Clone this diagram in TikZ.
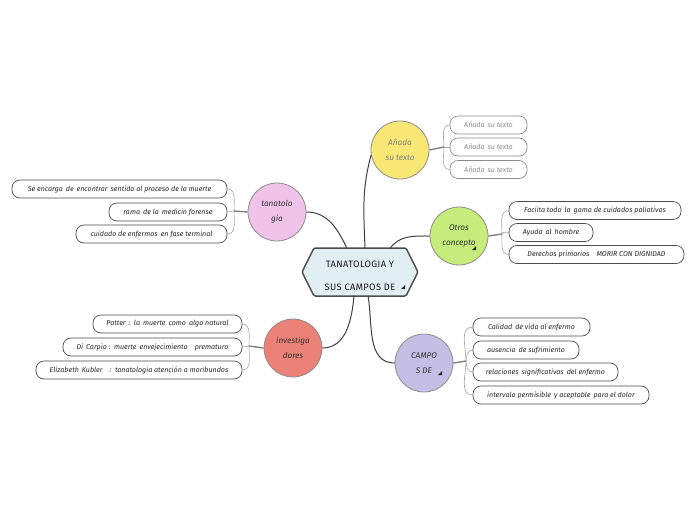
\documentclass[tikz,border=0pt]{standalone}
\usepackage{fontspec}
\setmainfont{Fira Sans}
\definecolor{hexfill}{HTML}{E1EEF4}
\definecolor{cyellow}{HTML}{F8E775}
\definecolor{cgreen}{HTML}{C6EC7C}
\definecolor{cpurple}{HTML}{C5BEE5}
\definecolor{cred}{HTML}{EC8277}
\definecolor{cpink}{HTML}{EFC3E9}
\newcommand{\leaffont}{\fontsize{7.1}{8}\selectfont\itshape}
\newcommand{\topicfont}{\fontsize{8.2}{15}\selectfont\itshape}
\newcommand{\mytri}[1]{\fill[black!85] ($(#1)+(2,-2)$) -- ($(#1)+(2,2)$) -- ($(#1)+(-2,2)$) -- cycle;}
\usetikzlibrary{calc}
\tikzset{
 conn/.style={draw=black!75, line width=1pt},
 stem/.style={draw=black!50, line width=1.4pt},
 brk/.style={draw=black!35, line width=0.6pt},
 leaf/.style={draw=black!70, line width=0.7pt, rounded corners=8pt, minimum height=18pt, inner sep=0pt, font=\leaffont, text=black!85, fill=white},
 leafgray/.style={leaf, draw=black!45, text=black!45},
 topic/.style={circle, draw=black!45, line width=0.8pt, minimum size=58pt, inner sep=0pt, align=center, font=\topicfont, text=black!80},
}
\begin{document}
\begin{tikzpicture}[x=1pt,y=-1pt]
\useasboundingbox (0,0) rectangle (696,520);
\fill[white] (0,0) rectangle (696,520);

% central hexagon
\draw[fill=hexfill, draw=black!70, line width=1.5pt, rounded corners=1.5pt]
  (302,272) -- (314,248) -- (406,248) -- (418,272) -- (406,296) -- (314,296) -- cycle;
\node (c) at (360,275.5) [align=center, font=\fontsize{9.3}{23}\selectfont\addfontfeature{LetterSpace=4}, text=black!90] {TANATOLOGIA Y\\SUS CAMPOS DE\hspace{8pt}};
\coordinate (cA) at (347,248.5);
\coordinate (cB) at (365,248.5);
\coordinate (cC) at (390,248.5);
\coordinate (cD) at (354,295.5);
\coordinate (cE) at (368,295.5);
\mytri{403,287}

% topics
\node[topic, fill=cpink] (pink) at (277,212) {tanatolo\\gia};
\node[topic, fill=cyellow, text=black!50] (yel) at (400,150) {Añada\\su texto};
\node[topic, fill=cgreen] (grn) at (459,236) {Otros\\concepto};
\node[topic, fill=cpurple] (pur) at (424,363) {CAMPO\\S DE\hspace{6pt}};
\node[topic, fill=cred] (red) at (293,348) {investiga\\dores};
\mytri{474,248}
\mytri{440,373}

% main connectors
\draw[conn] (pink.east) to[out=0,in=115] (cA);
\draw[conn] (yel.190) to[out=255,in=92] (cB);
\draw[conn] (grn.west) to[out=180,in=55] (cC);
\draw[conn] (cD) to[out=-95,in=0] (red.east);
\draw[conn] (cE) to[out=-80,in=180] (pur.west);

% yellow leaves
\node[leafgray, minimum width=77pt] (y1) at (488.5,125) {Añada\, su texto};
\node[leafgray, minimum width=77pt] (y2) at (488.5,147) {Añada\, su texto};
\node[leafgray, minimum width=77pt] (y3) at (488.5,169.5) {Añada\, su texto};
\coordinate (yj) at (444,147);
\draw[stem] (yel.east) -- (yj);
\draw[brk] (yj) to[out=90,in=180] (y1.west);
\draw[brk] (yj) -- (y2.west);
\draw[brk] (yj) to[out=-90,in=180] (y3.west);

% green leaves
\node[leaf, minimum width=172pt] (g1) at (595,210.5) {Faciita todo\, la\, gama de cuidados paliativos};
\node[leaf, minimum width=84pt] (g2) at (551,232.5) {Ayuda\, al\, hombre};
\node[leaf, minimum width=175pt] (g3) at (596.5,254.5) {Derechos primarios\quad MORIR CON DIGNIDAD};
\coordinate (gj) at (502,234);
\draw[stem] (grn.east) -- (gj);
\draw[brk] (gj) to[out=90,in=180] (g1.west);
\draw[brk] (gj) to[out=90,in=180] (g2.west);
\draw[brk] (gj) to[out=-90,in=180] (g3.west);

% purple leaves
\node[leaf, minimum width=117pt] (p1) at (531.5,327) {Calidad\, de vida al enfermo};
\node[leaf, minimum width=106pt] (p2) at (526,350) {ausencia\, de sufrimiento};
\node[leaf, minimum width=145pt] (p3) at (545.5,372) {relaciones\, significativas\, del enfermo};
\node[leaf, minimum width=176pt] (p4) at (561,395) {intervalo permisible\, y aceptable\, para el dolor};
\coordinate (pj) at (466,361);
\draw[stem] (pur.east) -- (pj);
\draw[brk] (pj) to[out=90,in=180] (p1.west);
\draw[brk] (pj) to[out=90,in=180] (p2.west);
\draw[brk] (pj) to[out=-90,in=180] (p3.west);
\draw[brk] (pj) to[out=-90,in=180] (p4.west);

% pink leaves
\node[leaf, minimum width=215pt] (k1) at (119.5,189) {Se encarga\, de\, encontrar\, sentido al proceso de la muerte};
\node[leaf, minimum width=118pt] (k2) at (168,212) {rama\, de la\, medicin forense};
\node[leaf, minimum width=151pt] (k3) at (151.5,234) {cuidado de enfermos\, en fase terminal};
\coordinate (kj) at (234,211);
\draw[stem] (pink.west) -- (kj);
\draw[brk] (kj) to[out=90,in=0] (k1.east);
\draw[brk] (kj) -- (k2.east);
\draw[brk] (kj) to[out=-90,in=0] (k3.east);

% red leaves
\node[leaf, minimum width=149pt] (r1) at (167.5,324) {Patter\, :\, la\, muerte\, como\, algo natural};
\node[leaf, minimum width=179pt] (r2) at (152.5,347) {Di\, Carpio :\, muerte\, envejecimiento\quad prematuro};
\node[leaf, minimum width=206pt] (r3) at (139,370) {Elizabeth\, Kubler\quad:\, tanatologia atención a moribundos};
\coordinate (rj) at (249,346);
\draw[stem] (red.west) -- (rj);
\draw[brk] (rj) to[out=90,in=0] (r1.east);
\draw[brk] (rj) -- (r2.east);
\draw[brk] (rj) to[out=-90,in=0] (r3.east);
\end{tikzpicture}
\end{document}
